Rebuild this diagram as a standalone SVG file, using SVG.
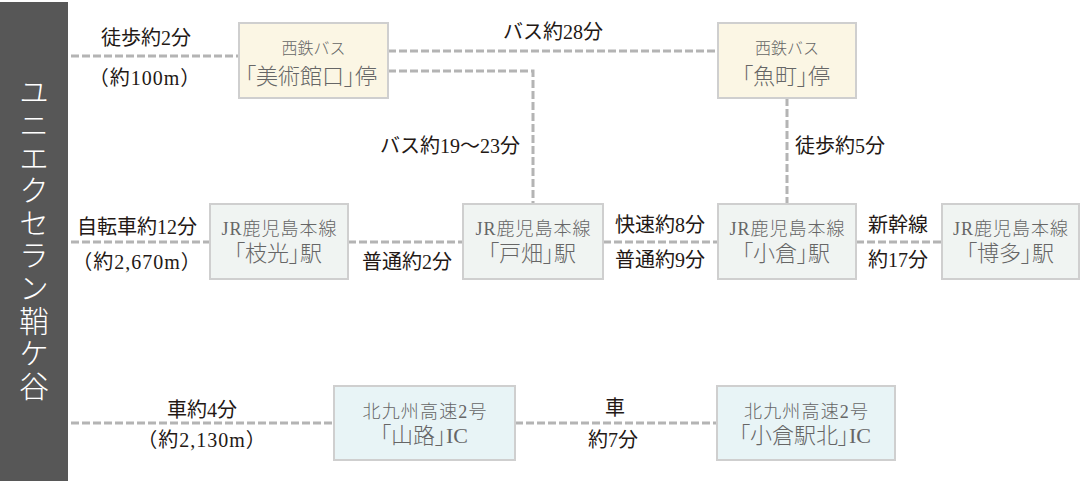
<svg xmlns="http://www.w3.org/2000/svg" width="1081" height="481" viewBox="0 0 1081 481">
<style>
.bg{fill:#ffffff}
.bar{fill:#575757}
.title{font-family:"Noto Sans CJK JP",sans-serif;font-size:30px;fill:#ffffff;font-weight:300;letter-spacing:2.6px}
.conn{fill:none;stroke:#b4b4b4;stroke-width:3;stroke-dasharray:8 3}
.lbl{font-family:"Liberation Serif","Noto Sans CJK JP",serif;font-size:20px;fill:#231815;text-anchor:middle}
.num{letter-spacing:1px}
.box{stroke:#cfcfcf;stroke-width:2}
.bus{fill:#fbf6e4}
.jr{fill:#f0f4f2}
.hw{fill:#e8f4f6}
.sub{font-family:"Liberation Serif","Noto Sans CJK JP",serif;font-size:18px;fill:#666666;text-anchor:middle;font-weight:300}
.sub16{font-size:16px}
.main{font-family:"Liberation Serif","Noto Sans CJK JP",serif;font-size:22px;fill:#666666;text-anchor:middle;font-weight:300;font-feature-settings:"palt"}
</style>
<rect class="bg" x="0" y="0" width="1081" height="481"/>
<g id="origin">
<rect class="bar" x="0" y="2" width="68" height="479"/>
<text class="title" x="34" y="77" writing-mode="vertical-rl">ユニエクセラン鞘ケ谷</text>
</g>
<g id="connectors">
<path class="conn" d="M71 56H239"/>
<path class="conn" d="M388 51H718"/>
<path class="conn" d="M388 71H533V204"/>
<path class="conn" d="M787 98V204"/>
<path class="conn" d="M71 242H210"/>
<path class="conn" d="M348 242H463"/>
<path class="conn" d="M603 242H718"/>
<path class="conn" d="M856 242H942"/>
<path class="conn" d="M71 423H334"/>
<path class="conn" d="M515 423H717"/>
</g>
<g id="labels">
<text class="lbl" x="146" y="45">徒歩約2分</text>
<text class="lbl num" x="145" y="85">（約100m）</text>
<text class="lbl" x="553" y="39">バス約28分</text>
<text class="lbl" x="520" y="153" style="text-anchor:end">バス約19～23分</text>
<text class="lbl" x="840" y="153">徒歩約5分</text>
<text class="lbl" x="137" y="234">自転車約12分</text>
<text class="lbl num" x="137" y="269">（約2,670m）</text>
<text class="lbl" x="407" y="269">普通約2分</text>
<text class="lbl" x="660" y="232">快速約8分</text>
<text class="lbl" x="660" y="267">普通約9分</text>
<text class="lbl" x="898" y="232">新幹線</text>
<text class="lbl" x="898" y="267">約17分</text>
<text class="lbl" x="202" y="417">車約4分</text>
<text class="lbl num" x="202" y="447">（約2,130m）</text>
<text class="lbl" x="615" y="415">車</text>
<text class="lbl" x="613" y="447">約7分</text>
</g>
<g id="node-bijutsukanguchi">
<rect class="box bus" x="239" y="23" width="149" height="75"/>
<text class="sub sub16" x="313.5" y="54">西鉄バス</text>
<text class="main" x="311" y="84">「美術館口」停</text>
</g>
<g id="node-uomachi">
<rect class="box bus" x="718" y="23" width="138" height="75"/>
<text class="sub sub16" x="787" y="54">西鉄バス</text>
<text class="main" x="786" y="84">「魚町」停</text>
</g>
<g id="node-edamitsu">
<rect class="box jr" x="210" y="204" width="138" height="75"/>
<text class="sub" x="279" y="235" textLength="115">JR鹿児島本線</text>
<text class="main" x="278" y="261">「枝光」駅</text>
</g>
<g id="node-tobata">
<rect class="box jr" x="463" y="204" width="140" height="75"/>
<text class="sub" x="533" y="235" textLength="115">JR鹿児島本線</text>
<text class="main" x="532" y="261">「戸畑」駅</text>
</g>
<g id="node-kokura">
<rect class="box jr" x="718" y="204" width="138" height="75"/>
<text class="sub" x="787" y="235" textLength="115">JR鹿児島本線</text>
<text class="main" x="786" y="261">「小倉」駅</text>
</g>
<g id="node-hakata">
<rect class="box jr" x="942" y="204" width="137" height="75"/>
<text class="sub" x="1010.5" y="235" textLength="115">JR鹿児島本線</text>
<text class="main" x="1010" y="261">「博多」駅</text>
</g>
<g id="node-sanji">
<rect class="box hw" x="334" y="386" width="181" height="74"/>
<text class="sub" x="424.5" y="418" textLength="124">北九州高速2号</text>
<text class="main" x="424" y="443">「山路」IC</text>
</g>
<g id="node-kokuraekikita">
<rect class="box hw" x="717" y="386" width="178" height="74"/>
<text class="sub" x="806" y="418" textLength="124">北九州高速2号</text>
<text class="main" x="805" y="443">「小倉駅北」IC</text>
</g>
</svg>
